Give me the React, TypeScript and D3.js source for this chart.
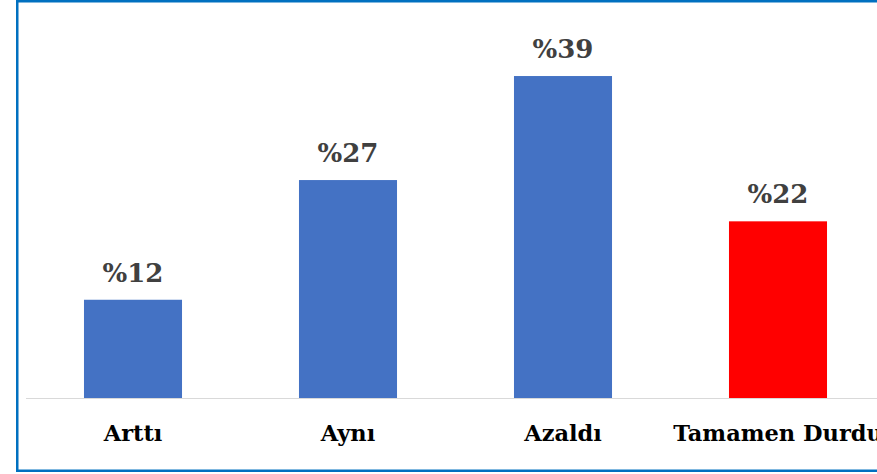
import React from "react";
import * as d3 from "d3";

const categories = ["Arttı", "Aynı", "Azaldı", "Tamamen Durdu"];
const values = [11.9, 26.4, 39.0, 21.4];
const valueLabels = ["%12", "%27", "%39", "%22"];
const barColors = ["#4472c4", "#4472c4", "#4472c4", "#ff0000"];

const W = 877;
const H = 474;

export default function App() {
  const x = d3
    .scaleBand<string>()
    .domain(categories)
    .range([25.5, 885.5])
    .paddingInner(0.544)
    .paddingOuter(0.272);
  const y = d3.scaleLinear().domain([0, 45]).range([398, 26.5]);
  const font = "'DejaVu Serif', serif";

  return (
    <svg
      width={W}
      height={H}
      style={{ position: "absolute", left: 0, top: 0, background: "#fff" }}
    >
      <rect x={0} y={0} width={W} height={H} fill="#fff" />
      {categories.map((c, i) => (
        <rect
          key={c}
          x={x(c)}
          y={y(values[i])}
          width={x.bandwidth()}
          height={y(0) - y(values[i])}
          fill={barColors[i]}
        />
      ))}
      <line x1={26} x2={W} y1={398.5} y2={398.5} stroke="#d9d9d9" strokeWidth={1.2} />
      {categories.map((c, i) => (
        <text
          key={"v" + c}
          x={(x(c) as number) + x.bandwidth() / 2}
          y={y(values[i]) - 18}
          textAnchor="middle"
          fontFamily={font}
          fontWeight="bold"
          fontSize={26}
          fill="#404040"
        >
          {valueLabels[i]}
        </text>
      ))}
      {categories.map((c) => (
        <text
          key={"c" + c}
          x={(x(c) as number) + x.bandwidth() / 2}
          y={441}
          textAnchor="middle"
          fontFamily={font}
          fontWeight="bold"
          fontSize={22.5}
          fill="#000"
        >
          {c}
        </text>
      ))}
      <rect
        x={17.25}
        y={1.25}
        width={W + 10}
        height={469.5}
        fill="none"
        stroke="#0070c0"
        strokeWidth={2.5}
      />
    </svg>
  );
}
